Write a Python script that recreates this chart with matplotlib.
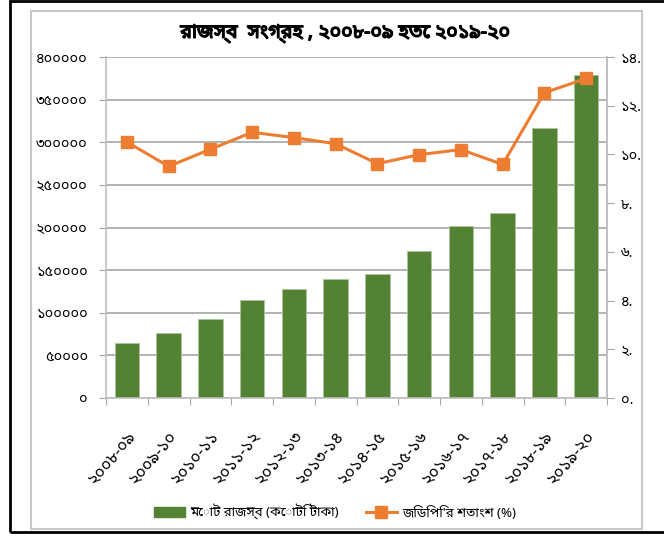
import matplotlib
matplotlib.use("Agg")
import matplotlib.pyplot as plt
from matplotlib import font_manager
from matplotlib.ft2font import FT2Font
from matplotlib.patches import Rectangle
from matplotlib.lines import Line2D
import matplotlib.patheffects as pe
import numpy as np

categories = ["২০০৮-০৯", "২০০৯-১০", "২০১০-১১", "২০১১-১২", "২০১২-১৩", "২০১৩-১৪",
              "২০১৪-১৫", "২০১৫-১৬", "২০১৬-১৭", "২০১৭-১৮", "২০১৮-১৯", "২০১৯-২০"]
revenue = [64200, 75900, 93100, 115000, 128300, 140000, 145900, 172900, 201500, 216800, 316600, 378300]
gdp_pct = [10.51, 9.51, 10.21, 10.91, 10.69, 10.44, 9.62, 9.99, 10.20, 9.59, 12.53, 13.12]
left_ticks = [0, 50000, 100000, 150000, 200000, 250000, 300000, 350000, 400000]
left_labels = ["০", "৫০০০০", "১০০০০০", "১৫০০০০", "২০০০০০", "২৫০০০০", "৩০০০০০", "৩৫০০০০", "৪০০০০০"]
right_ticks = [0, 2, 4, 6, 8, 10, 12, 14]
right_labels = ["০.", "২.", "৪.", "৬.", "৮.", "১০.", "১২.", "১৪."]
title = "রাজস্ব  সংগ্রহ , ২০০৮-০৯ হতে ২০১৯-২০"
legend_bar = "মোট রাজস্ব (কোটি টাকা)"
legend_line = "জিডিপি'র শতাংশ (%)"

# find fonts that cover Bengali; prefer proportional sans fonts
cands = []
seen = set()
for fe in font_manager.fontManager.ttflist:
    if fe.name in seen:
        continue
    try:
        cm = FT2Font(fe.fname).get_charmap()
        if 0x0995 in cm and 0x09E8 in cm:
            seen.add(fe.name)
            score = 0
            n = fe.name.lower()
            if "mono" in n or "code" in n or "courier" in n:
                score += 10
            if "bengali" in n or "bangla" in n:
                score -= 5
            if "sans" in n:
                score -= 2
            cands.append((score, fe.name))
    except Exception:
        pass
cands.sort()
beng = cands[0][1] if cands else None
fam = [beng, "DejaVu Sans"] if beng else ["DejaVu Sans"]
plt.rcParams['font.family'] = fam

W, H = 664, 536
fig = plt.figure(figsize=(W / 100, H / 100), dpi=100)

# frames
fig.patches.append(Rectangle((10 / W, 1 - 532 / H), (W + 5 - 10) / W, 531 / H,
                             transform=fig.transFigure, fill=False, ec="black", lw=2))
fig.patches.append(Rectangle((31 / W, 1 - 529 / H), (642 - 31) / W, (529 - 11) / H,
                             transform=fig.transFigure, fill=False, ec="#c8c8c8", lw=1.5))

ax = fig.add_axes([106 / W, 1 - 398 / H, (607 - 106) / W, (398 - 57) / H])
x = np.arange(len(categories))
green = "#548235"
orange = "#ED7D31"
ax.bar(x, revenue, width=0.59, color=green, edgecolor="#a9c59a", linewidth=0.6, zorder=2)
ax.set_xlim(-0.5, len(categories) - 0.5)
ax.set_ylim(0, 400000)
ax.set_yticks(left_ticks)
ax.set_yticklabels(left_labels, fontsize=10.5)
ax.yaxis.grid(True, color="#a6a6a6", lw=1.2, zorder=0)
ax.set_axisbelow(True)
ax.set_xticks(np.arange(len(categories) + 1) - 0.5, minor=False)
ax.set_xticklabels([])
ax.set_xticks(x, minor=True)
ax.set_xticklabels(categories, minor=True, rotation=50, ha="right", rotation_mode="anchor",
                   fontsize=12)
for lbl in ax.get_xticklabels(minor=True):
    lbl.set_transform(lbl.get_transform() + matplotlib.transforms.ScaledTranslation(6 / 100, 0, fig.dpi_scale_trans))
ax.tick_params(axis="x", which="minor", length=0, pad=22)
ax.tick_params(axis="x", which="major", length=5, color="#a6a6a6")
ax.tick_params(axis="y", length=5, color="#a6a6a6", pad=8)
ax.spines["top"].set_visible(False)
for s in ["left", "bottom", "right"]:
    ax.spines[s].set_color("#bfbfbf")
    ax.spines[s].set_linewidth(1.2)

ax2 = ax.twinx()
ax2.plot(x, gdp_pct, color=orange, lw=2.2, marker="s", markersize=8.5, zorder=3)
ax2.set_ylim(0, 14)
ax2.set_yticks(right_ticks)
ax2.set_yticklabels(right_labels, fontsize=10.5)
ax2.tick_params(axis="y", length=5, color="#a6a6a6", pad=5)
ax2.spines["top"].set_visible(False)
ax2.spines["left"].set_visible(False)
ax2.spines["bottom"].set_visible(False)
ax2.spines["right"].set_color("#bfbfbf")
ax2.spines["right"].set_linewidth(1.2)

fig.text(345 / W, 1 - 33 / H, title, ha="center", va="center", fontsize=14, fontweight="bold",
         path_effects=[pe.withStroke(linewidth=1.0, foreground="black")])

handles = [Rectangle((0, 0), 1, 1, color=green),
           Line2D([0], [0], color=orange, lw=2.2, marker="s", markersize=8.5)]
fig.legend(handles, [legend_bar, legend_line], loc="center", bbox_to_anchor=(335 / W, 1 - 512 / H),
           ncol=2, frameon=False, fontsize=9.5, handlelength=2.4, handletextpad=0.4,
           columnspacing=2.0)

fig.savefig("out.png", dpi=100)
